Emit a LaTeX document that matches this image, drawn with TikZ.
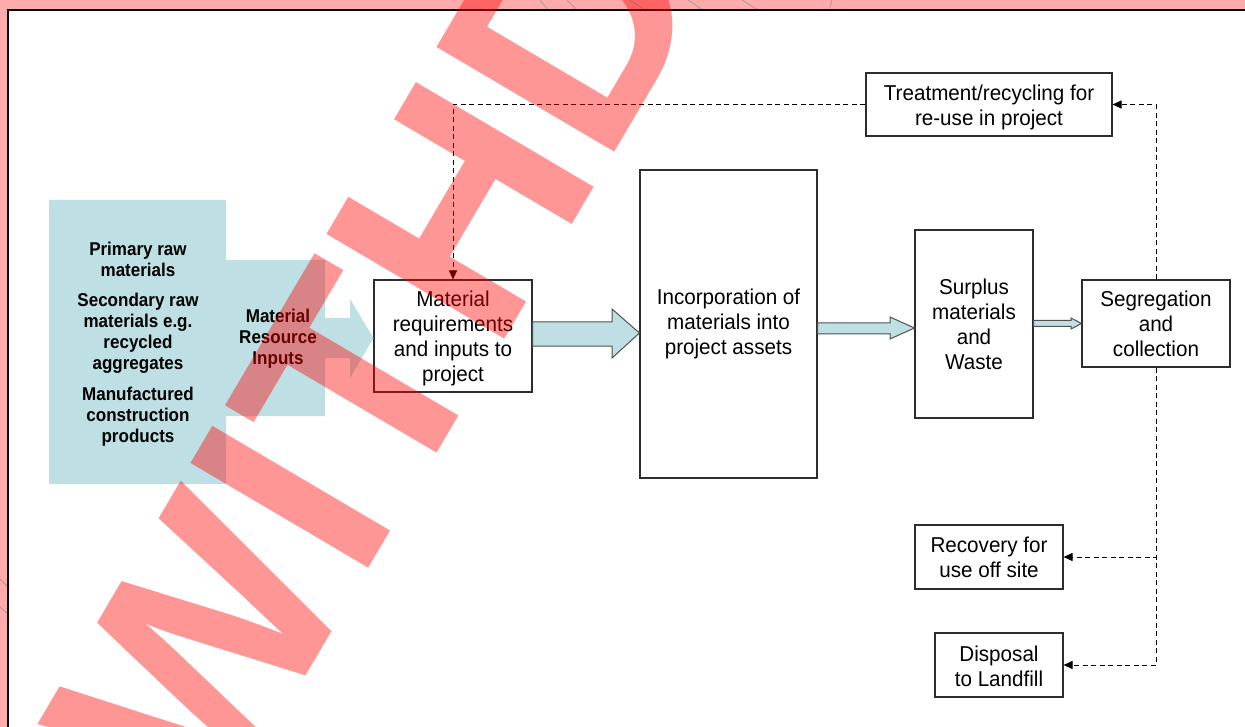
\documentclass[tikz,border=0pt]{standalone}
\usepackage{fontspec}
\setmainfont{Liberation Sans}[FakeStretch=0.96]
\newfontfamily\bnarrow{Liberation Sans}[FakeStretch=0.92]
\newfontfamily\wmfont{Liberation Sans}
\usetikzlibrary{arrows.meta,calc}
\definecolor{pinkbg}{RGB}{255,171,171}
\definecolor{lblue}{RGB}{190,224,228}
\definecolor{boxline}{RGB}{45,45,45}
\definecolor{arrline}{RGB}{80,80,80}
\tikzset{
  box/.style={draw=boxline, line width=1.1pt, fill=white, align=center, inner sep=0pt,
    font=\fontsize{21.5}{25}\selectfont},
  boxtxt/.style={align=center, inner sep=0pt, font=\fontsize{21.5}{25}\selectfont},
  btxt/.style={align=center, inner sep=0pt, font=\bnarrow\bfseries\fontsize{18.5}{21}\selectfont},
  blockarrow/.style={fill=lblue, draw=arrline, line width=1pt, line join=miter},
  dasharrow/.style={draw=black, line width=1pt, dash pattern=on 5pt off 3.5pt,
    -{Triangle[length=9pt,width=8pt]}},
  marginline/.style={draw=gray!75, line width=0.8pt}
}
\begin{document}
\begin{tikzpicture}[x=1pt,y=1pt]
\useasboundingbox (0,0) rectangle (1245,-727);
\begin{scope}
\clip (0,0) rectangle (1245,-727);
% background and panel
\fill[pinkbg] (0,0) rectangle (1245,-727);
\draw[marginline] (540,0) -- (548,-10);
\draw[marginline] (567,0) -- (577,-10);
\draw[marginline] (630,0) -- (645,-10);
\draw[marginline] (688,0) -- (703,-10);
\draw[marginline] (742,0) -- (758,-10);
\draw[marginline] (832,0) -- (829,-10);
\draw[marginline] (0,-579) -- (8,-587);
\draw[marginline] (0,-607) -- (8,-614);
\filldraw[fill=white, draw=black, line width=2pt] (8,-10) rectangle (1262,-742);

% boxes
\node[box, minimum width=158pt, minimum height=112pt,
  label={[boxtxt, yshift=-2pt]center:{Material\\requirements\\and inputs to\\project}}] (mat) at (453,-336) {};
\node[box, minimum width=177pt, minimum height=308pt] (inc) at (728.5,-324)
  {Incorporation of\\materials into\\project assets};
\node[box, minimum width=118pt, minimum height=188pt] (sur) at (974,-324)
  {Surplus\\materials\\and\\Waste};
\node[box, minimum width=148pt, minimum height=87pt] (seg) at (1156,-323.5)
  {Segregation\\and\\collection};
\node[box, minimum width=246pt, minimum height=63pt,
  label={[boxtxt, yshift=-3pt]center:{Treatment/recycling for\\re-use in project}}] (tre) at (989,-104.5) {};
\node[box, minimum width=148pt, minimum height=64pt] (rec) at (989,-557)
  {Recovery for\\use off site};
\node[box, minimum width=128pt, minimum height=64pt,
  label={[boxtxt, yshift=-1pt]center:{Disposal\\to Landfill}}] (dis) at (999,-665) {};

% blue input shape
\fill[lblue] (49,-200) -- (226,-200) -- (226,-260) -- (325,-260) -- (325,-318)
  -- (350,-318) -- (350,-299) -- (mat.west |- 0,-338) -- (350,-378) -- (350,-358)
  -- (325,-358) -- (325,-416) -- (226,-416) -- (226,-484) -- (49,-484) -- cycle;
\node[btxt] (g1) at (138,-259.5) {Primary raw\\materials};
\node[btxt] (g2) at (138,-333.5) {Secondary raw\\materials e.g.\\recycled\\aggregates};
\node[btxt] (g3) at (138,-416.5) {Manufactured\\construction\\products};
\node[btxt] (mri) at (278,-339) {Material\\Resource\\Inputs};

% block arrows
\draw[blockarrow] (mat.east |- 0,-322) -- (612,-322) -- (612,-309)
  -- (inc.west |- 0,-333) -- (612,-358) -- (612,-346) -- (mat.east |- 0,-346) -- cycle;
\draw[blockarrow] (inc.east |- 0,-323) -- (890,-323) -- (890,-317)
  -- (sur.west |- 0,-328) -- (890,-339) -- (890,-334) -- (inc.east |- 0,-334) -- cycle;
\draw[blockarrow] (sur.east |- 0,-320.5) -- (1071,-320.5) -- (1071,-318)
  -- (seg.west |- 0,-323.5) -- (1071,-329) -- (1071,-326.5) -- (sur.east |- 0,-326.5) -- cycle;

% dashed connectors
\draw[dasharrow] (seg.north) |- (tre.east);
\draw[dasharrow] (tre.west) -| (mat.north);
\draw[dasharrow] (seg.south) |- (rec.east);
\draw[dasharrow] (seg.south) |- (dis.east);

% watermark
\node[rotate=59.5, anchor=base west, inner sep=0pt, text=red, text opacity=0.41,
  font=\wmfont\bfseries\fontsize{300}{300}\selectfont] (wm) at (215,-830) {WITHDRAWN};
\end{scope}
\end{tikzpicture}
\end{document}
